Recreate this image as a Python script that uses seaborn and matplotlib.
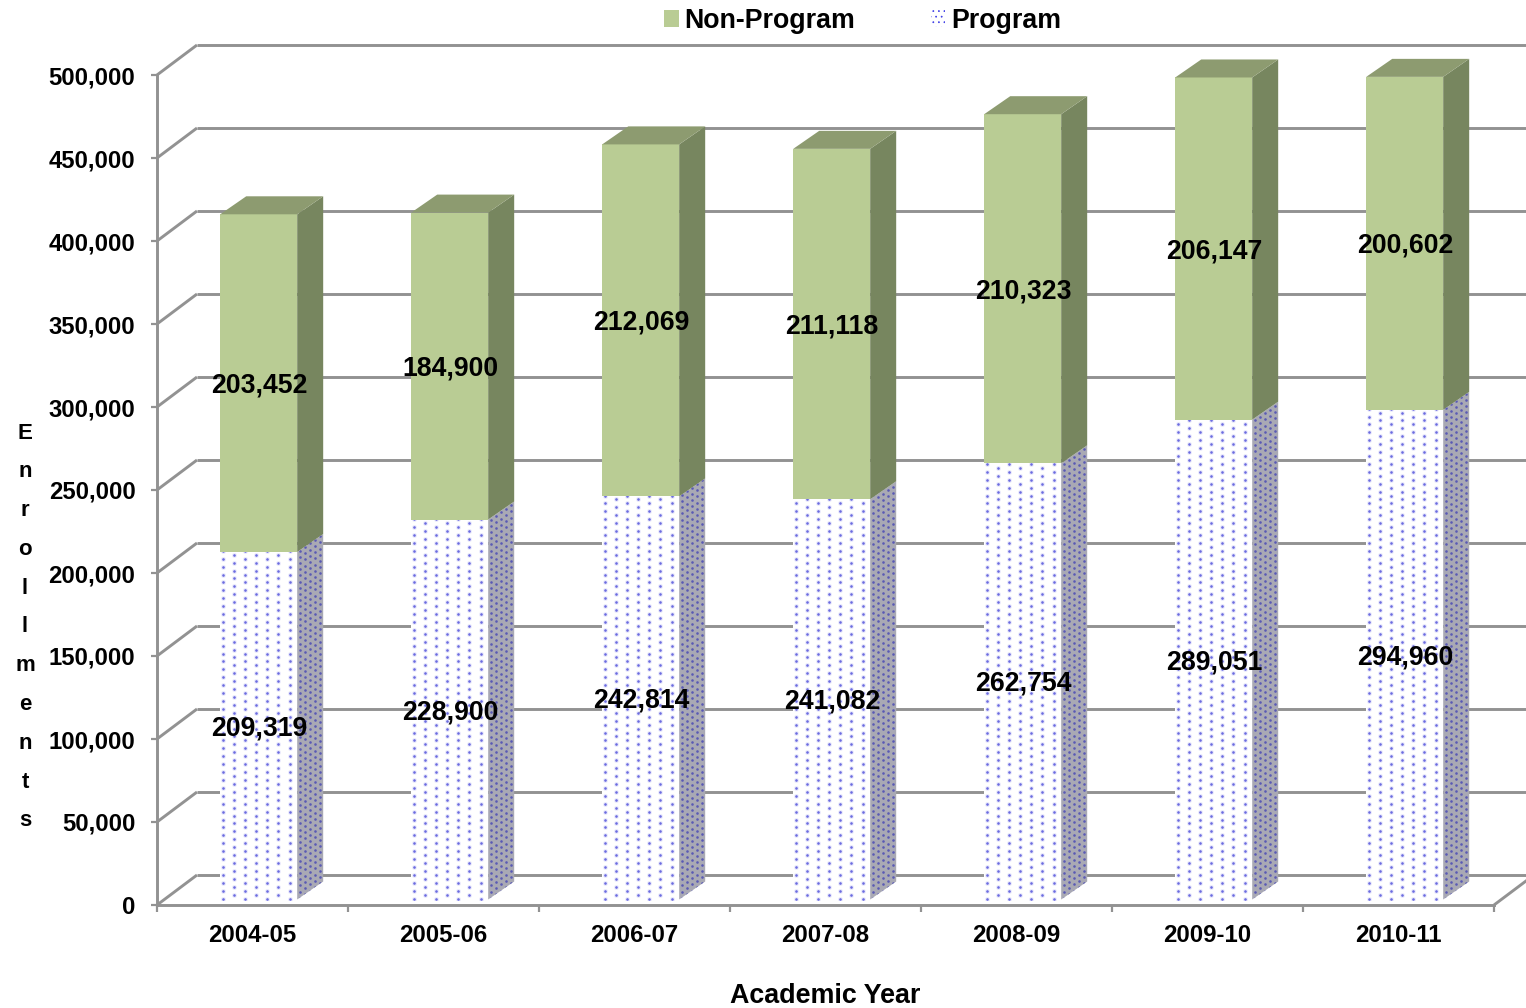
import numpy as np
import matplotlib
matplotlib.use("Agg")
import matplotlib.pyplot as plt
import seaborn as sns
from matplotlib.patches import Patch, Polygon
from matplotlib.transforms import Affine2D, IdentityTransform

years = ["2004-05", "2005-06", "2006-07", "2007-08", "2008-09", "2009-10", "2010-11"]
program = [209319, 228900, 242814, 241082, 262754, 289051, 294960]
non_program = [203452, 184900, 212069, 211118, 210323, 206147, 200602]
y_ticks = [0, 50000, 100000, 150000, 200000, 250000, 300000, 350000, 400000, 450000, 500000]
y_letters = "Enrollments"

GRAY = "#929292"
GREEN = "#b9cc94"
GREEN_SIDE = "#77865f"
GREEN_TOP = "#8d9b70"
DOT = "#6c6ce0"
DOT_HALO = "#ebebfc"
DOT_SIDE = "#5a5ab4"
SIDE_BG = "#a9a9b4"

# depth of the fake 3D, all in pixels
WALL = np.array([40, 30])
BAR_SHIFT = np.array([6.2, 5.5])
DEPTH = np.array([26, 18])

W, H = 1526, 1008

sns.set_style("white")
plt.rcParams["font.family"] = ["Liberation Sans", "DejaVu Sans"]
plt.rcParams["font.weight"] = "bold"
plt.rcParams["hatch.linewidth"] = 0.5

fig = plt.figure(figsize=(W / 100, H / 100), dpi=100)
ax = fig.add_axes([157 / W, 103 / H, 1337 / W, 830 / H])

sns.barplot(x=years, y=program, color="white", saturation=1, width=0.403, ax=ax, zorder=3)
sns.barplot(x=years, y=non_program, bottom=program, color=GREEN, saturation=1, width=0.403, ax=ax, zorder=3)

ax.set_xlim(-0.5, 6.5)
ax.set_ylim(0, 500000)
ax.autoscale(False)

shift = Affine2D().translate(*BAR_SHIFT)


def to_px(x, y):
    return ax.transData.transform((x, y))


def pixel_line(a, b):
    ax.plot([a[0], b[0]], [a[1], b[1]], color=GRAY, lw=2.1, transform=IdentityTransform(),
            clip_on=False, zorder=1, solid_capstyle="butt")


# back wall grid and the slanted lines coming to the front axis
for v in y_ticks:
    front = to_px(-0.5, v)
    pixel_line(front, front + WALL)
    pixel_line(front + WALL, to_px(6.5, v) + WALL)
pixel_line(to_px(6.5, 0), to_px(6.5, 0) + WALL)


def scatter_dots(xs, ys, color, size, clip):
    dots = ax.scatter(xs, ys, s=size, color=color, linewidths=0, transform=IdentityTransform(), zorder=4)
    dots.set_clip_path(clip)


def side_face(rect, color):
    x, y = rect.get_x(), rect.get_y()
    w, h = rect.get_width(), rect.get_height()
    p0 = to_px(x + w, y) + BAR_SHIFT
    p1 = to_px(x + w, y + h) + BAR_SHIFT
    poly = Polygon([p0, p0 + DEPTH, p1 + DEPTH, p1], closed=True, facecolor=color, lw=0,
                   transform=IdentityTransform(), zorder=3, clip_on=False)
    ax.add_patch(poly)
    return poly, p0, p1


for rect in ax.containers[0]:
    rect.set_transform(ax.transData + shift)
    rect.set_linewidth(0)
    left = to_px(rect.get_x(), 0) + BAR_SHIFT
    top = to_px(rect.get_x(), rect.get_height()) + BAR_SHIFT

    # dot texture on the front, staggered columns
    xs, ys = [], []
    for col in range(7):
        col_y = np.arange(left[1] + 1 + (col % 2) * 4, top[1] + 4, 7.9)
        xs += [left[0] + 2.5 + col * 11.15] * len(col_y)
        ys += list(col_y)
    scatter_dots(xs, ys, DOT_HALO, 13, rect)
    scatter_dots(xs, ys, DOT, 3.6, rect)

    poly, p0, p1 = side_face(rect, SIDE_BG)
    xs, ys = [], []
    for col in range(5):
        dx = 2.5 + col * 5.2
        col_y = np.arange(p0[1] + dx * DEPTH[1] / DEPTH[0], p1[1] + DEPTH[1] + 6, 6.2)
        xs += [p0[0] + dx] * len(col_y)
        ys += list(col_y)
    scatter_dots(xs, ys, DOT_SIDE, 3.5, poly)

for rect in ax.containers[1]:
    rect.set_transform(ax.transData + shift)
    rect.set_linewidth(0)
    poly, p0, p1 = side_face(rect, GREEN_SIDE)
    p2 = to_px(rect.get_x(), rect.get_y() + rect.get_height()) + BAR_SHIFT
    ax.add_patch(Polygon([p2, p1, p1 + DEPTH, p2 + DEPTH], closed=True, facecolor=GREEN_TOP, lw=0,
                         transform=IdentityTransform(), zorder=3, clip_on=False))

# value labels in the middle of each stack piece
label_tf = ax.transData + Affine2D().translate(6.5, 3)
for i in range(len(years)):
    ax.text(i, program[i] / 2, f"{program[i]:,}", ha="center", va="center", fontsize=19.2,
            color="black", transform=label_tf, zorder=6)
    ax.text(i, program[i] + non_program[i] / 2, f"{non_program[i]:,}", ha="center", va="center",
            fontsize=19.2, color="black", transform=label_tf, zorder=6)

sns.despine(ax=ax)
for name in ["left", "bottom"]:
    ax.spines[name].set_color(GRAY)
    ax.spines[name].set_linewidth(2.1)

ax.set_yticks(y_ticks)
ax.set_yticklabels([f"{v:,}" for v in y_ticks], fontsize=17.2, color="black")
ax.tick_params(axis="y", left=True, length=4.5, width=1.6, color=GRAY, pad=11)
ax.set_xticks(range(len(years)))
ax.set_xticklabels(years, fontsize=17.3, color="black")
ax.set_xticks(np.arange(-0.5, 7), minor=True)
ax.tick_params(axis="x", which="major", bottom=False, pad=10)
ax.tick_params(axis="x", which="minor", bottom=True, length=5, width=1.6, color=GRAY)
ax.set_xlabel("Academic Year", fontsize=19.4, fontweight="bold", color="black", labelpad=26)

# y title is stacked letter by letter
fig.text(25 / W, 1 - 627 / H, "\n".join(y_letters), ha="center", va="center", fontsize=16,
         color="black", linespacing=2.11)

handles = [Patch(facecolor=GREEN, lw=0, label="Non-Program"),
           Patch(facecolor="white", edgecolor="#3c3ce6", hatch="...", lw=0, label="Program")]
fig.legend(handles=handles, loc="upper center", bbox_to_anchor=(862.5 / W, 1 - 8 / H), ncol=2, frameon=False,
           fontsize=19.3, handlelength=0.55, handleheight=0.55, handletextpad=0.2,
           columnspacing=2.82, borderpad=0, borderaxespad=0, labelcolor="black")

fig.savefig("out.png", dpi=100)
